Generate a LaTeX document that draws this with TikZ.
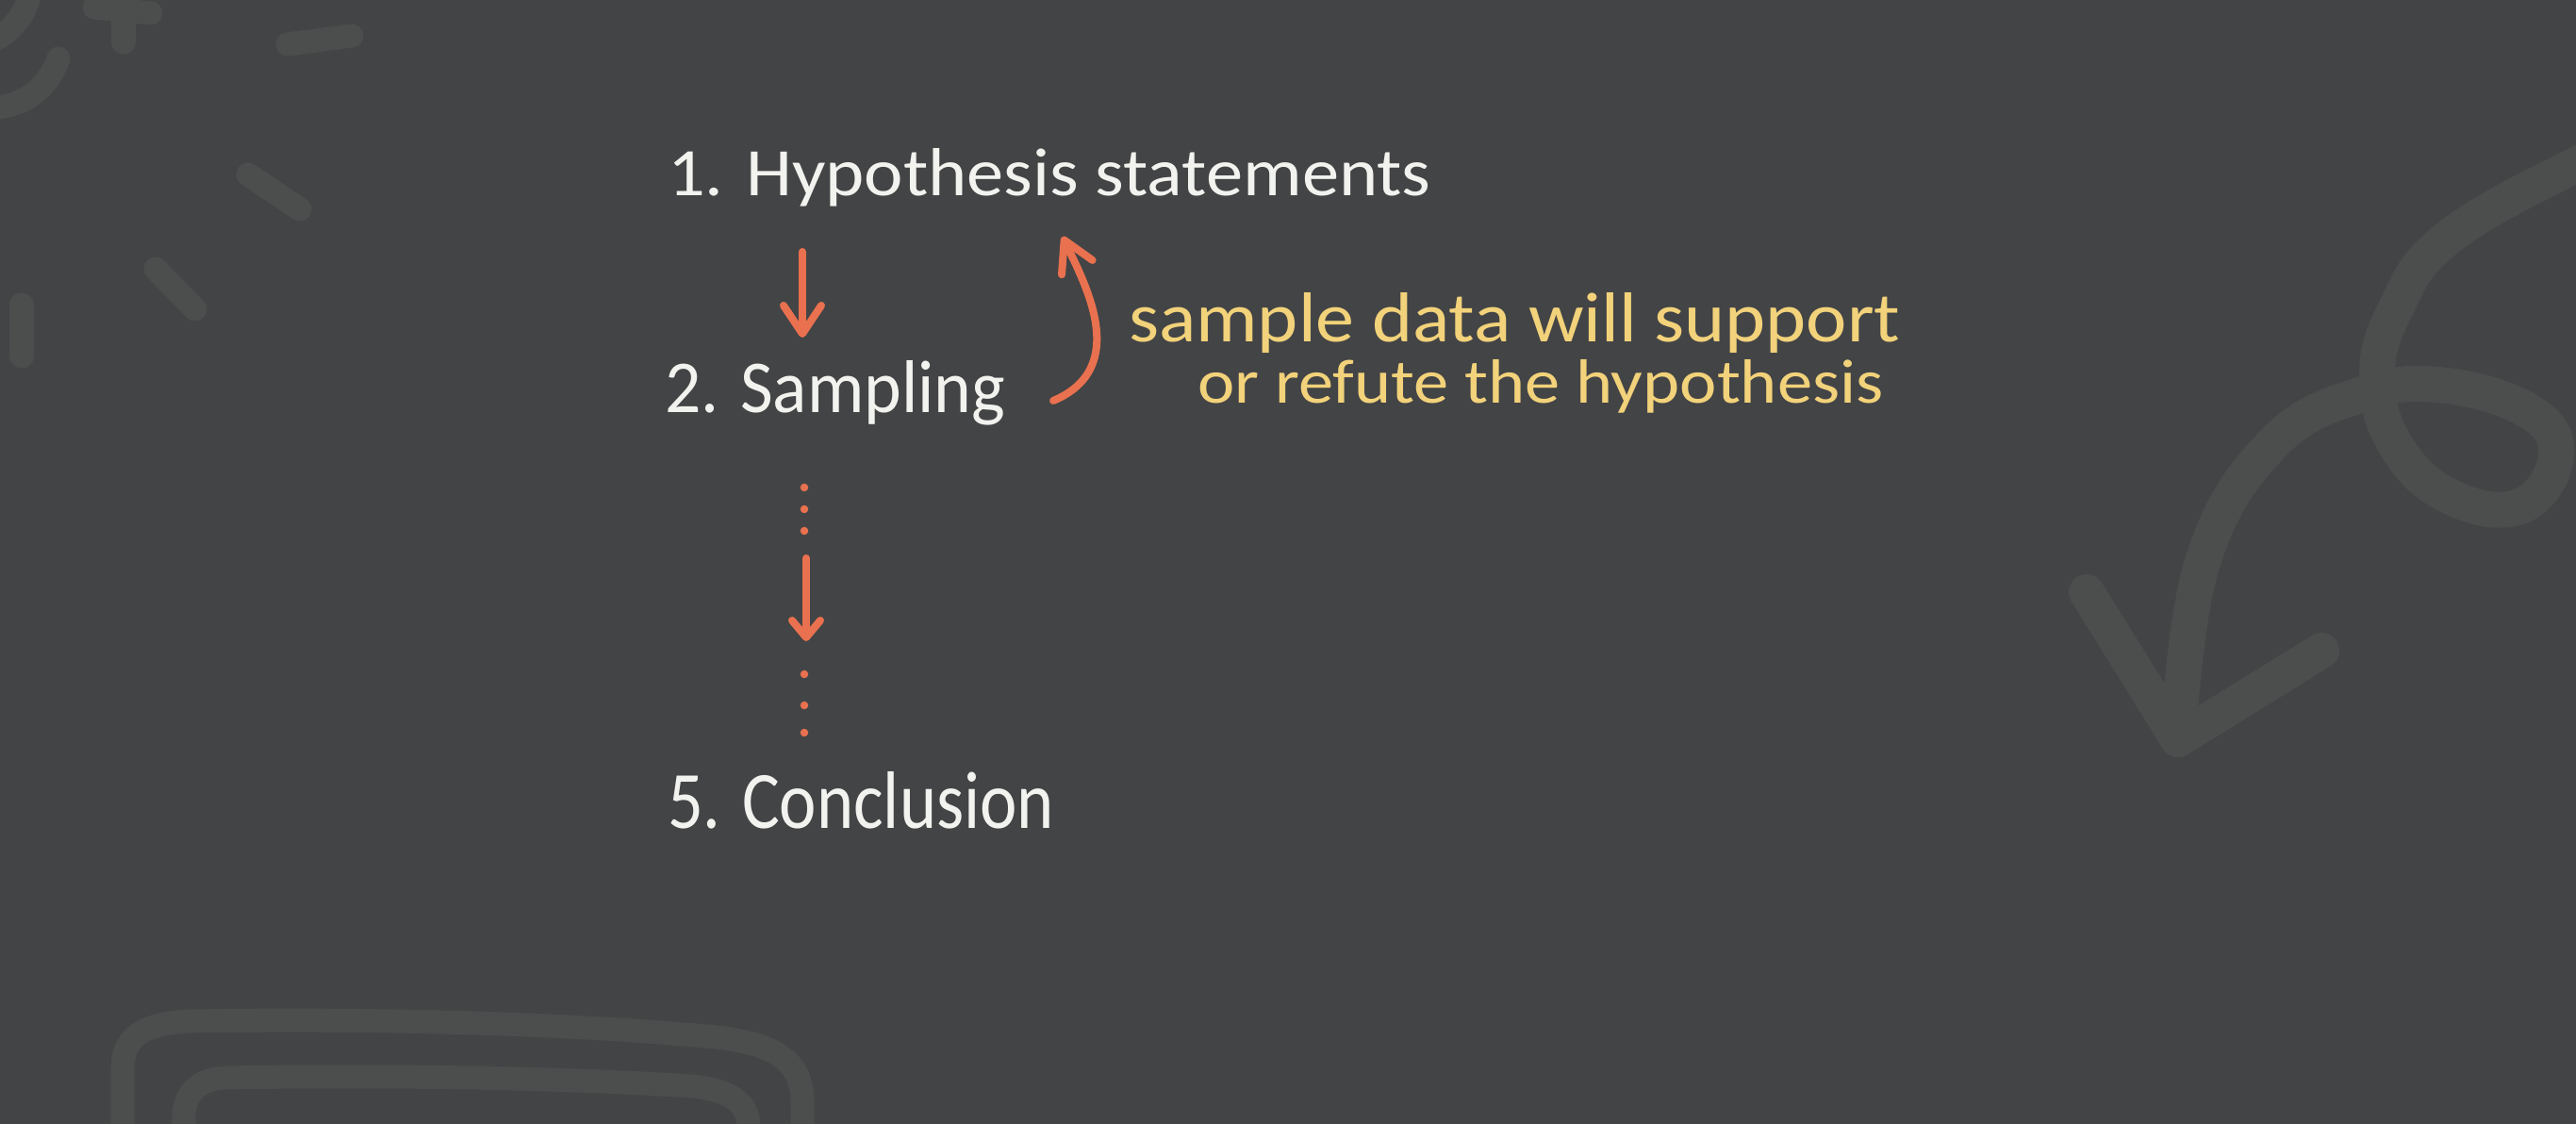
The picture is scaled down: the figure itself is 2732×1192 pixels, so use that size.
\documentclass[tikz,border=0pt]{standalone}
\usepackage{fontspec}
\setmainfont{Carlito}
\usetikzlibrary{arrows.meta}
\definecolor{bg}{HTML}{434446}
\definecolor{doodle}{HTML}{4C4D4D}
\definecolor{ink}{HTML}{F2F2EE}
\definecolor{coral}{HTML}{E9714F}
\definecolor{sun}{HTML}{F2D27A}
\begin{document}
\begin{tikzpicture}[x=0.01cm,y=-0.01cm,
  doodleline/.style={draw=doodle, line width=0.25cm, line cap=round, line join=round},
  bigdoodle/.style={draw=doodle, line width=0.38cm, line cap=round, line join=round},
  lbl/.style={inner sep=0pt, outer sep=0pt, anchor=base west},
  whitetext/.style={lbl, text=ink},
  yellowtext/.style={lbl, text=sun},
  flow/.style={draw=coral, line width=0.08cm, line cap=round},
  dotmark/.style={circle, fill=coral, inner sep=0pt, minimum size=0.085cm}
]
\fill[bg] (0,0) rectangle (2732,1192);
\useasboundingbox (0,0) rectangle (2732,1192);
\begin{scope}
\clip (0,0) rectangle (2732,1192);
% top-left doodles
\draw[doodleline] (32,-10) .. controls (28,15) and (15,30) .. (-5,42);
\draw[doodleline] (62,62) .. controls (50,95) and (25,112) .. (-5,114);
\draw[doodleline] (100,8) -- (160,14);
\draw[doodleline] (131,-5) -- (131,45);
\draw[doodleline] (305,47) -- (373,38);
\draw[doodleline] (263,185) -- (318,222);
\draw[doodleline] (165,285) -- (207,328);
\draw[doodleline] (23,323) -- (23,378);
% right doodle
\draw[bigdoodle] plot[smooth, tension=0.7] coordinates {(2310,784) (2336,596) (2410,471) (2506,418) (2595,409) (2688,440) (2710,489) (2670,538) (2595,525) (2540,471) (2521,400) (2540,329) (2595,253) (2732,175) (2800,150)};
\draw[bigdoodle] (2213,628) -- (2310,784) -- (2462,690);
% bottom-left doodle
\draw[doodleline] (130,1220) -- (130,1135) .. controls (130,1100) and (150,1086) .. (200,1083) .. controls (400,1080) and (600,1085) .. (760,1100) .. controls (830,1108) and (851,1130) .. (851,1170) -- (851,1220);
\draw[doodleline] (195,1220) -- (195,1185) .. controls (195,1160) and (210,1144) .. (240,1143) .. controls (400,1140) and (600,1143) .. (734,1152) .. controls (775,1156) and (794,1170) .. (794,1195) -- (794,1220);
\end{scope}
% texts
\node[whitetext] (t1) at (708,208) {\resizebox{8.09cm}{0.50cm}{1. Hypothesis statements}};
\node[whitetext] (t2) at (705,438) {\resizebox{3.61cm}{0.55cm}{2. Sampling}};
\node[whitetext] (t5) at (708,879) {\resizebox{4.10cm}{0.60cm}{5. Conclusion}};
\node[yellowtext] (y1) at (1197,363) {\resizebox{8.18cm}{0.52cm}{sample data will support}};
\node[yellowtext] (y2) at (1270,428) {\resizebox{7.27cm}{0.46cm}{or refute the hypothesis}};
% arrows
\coordinate (a1s) at (851,267);
\coordinate (a1e) at (851,358);
\coordinate (a2s) at (855,592);
\coordinate (a2e) at (855,680);
\coordinate (cs) at (1117,425);
\coordinate (ce) at (1127,251);
\draw[flow, -{Straight Barb[length=0.3cm, width=0.4cm, round]}] (a1s) -- (a1e);
\draw[flow, -{Straight Barb[length=0.18cm, width=0.3cm, round]}] (a2s) -- (a2e);
\draw[flow, -{Straight Barb[length=0.32cm, width=0.36cm, round]}] (cs) .. controls (1200,390) and (1150,300) .. (ce);
% dots
\node[dotmark] (d1) at (853,517) {};
\node[dotmark] (d2) at (853,540) {};
\node[dotmark] (d3) at (853,563) {};
\node[dotmark] (d4) at (853,715) {};
\node[dotmark] (d5) at (853,748) {};
\node[dotmark] (d6) at (853,777) {};
\end{tikzpicture}
\end{document}
